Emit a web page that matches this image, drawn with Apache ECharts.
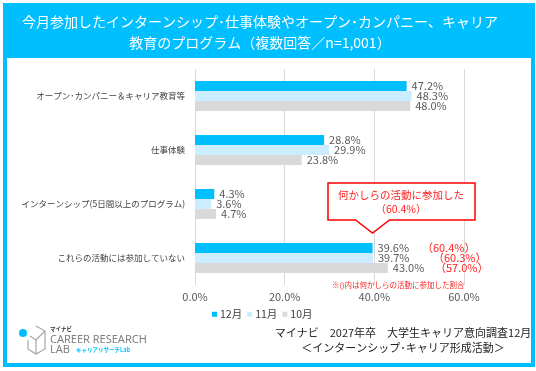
<!DOCTYPE html>
<html><head><meta charset="utf-8">
<script src="https://cdn.jsdelivr.net/npm/echarts@6/dist/echarts.min.js"></script>
<style>html,body{margin:0;padding:0;background:#fff}#c{width:536px;height:371px}</style>
</head><body><div id="c"></div>
<script>
const categories = ['オープン･カンパニー＆キャリア教育等','仕事体験','インターンシップ(5日間以上のプログラム)','これらの活動には参加していない'];
const seriesNames = ['12月','11月','10月'];
const dec = [47.2, 28.8, 4.3, 39.6];
const nov = [48.3, 29.9, 3.6, 39.7];
const oct = [48.0, 23.8, 4.7, 43.0];
const participated = ['（60.4%）','（60.3%）','（57.0%）'];
const xTicks = [0, 20, 40, 60];

const FONT = '"Noto Sans CJK JP", "Noto Sans", sans-serif';
const CYAN = '#00BFFF';
const colors = [CYAN, '#CCECFF', '#D9D9D9'];
const chart = echarts.init(document.getElementById('c'), null, {renderer:'canvas'});

const mk = (name, data, i) => ({
  name, type:'bar', data, barWidth:10, barGap:'0%',
  itemStyle:{color:colors[i]},
  label:{show:true, position:'right', distance:5, formatter:p=>p.value.toFixed(1)+'%',
    color:'#595959', fontSize:11, fontFamily:FONT},
  silent:true, animation:false
});

chart.setOption({
  animation:false,
  textStyle:{fontFamily:FONT},
  grid:{left:195, right:72, top:69, bottom:86},
  xAxis:{type:'value', min:xTicks[0], max:xTicks[xTicks.length-1], interval:20,
    axisLine:{show:false}, axisTick:{show:false},
    splitLine:{lineStyle:{color:'#D9D9D9', width:1}},
    axisLabel:{formatter:v=>v.toFixed(1)+'%', color:'#595959', fontSize:11, margin:6, fontFamily:FONT}},
  yAxis:{type:'category', data:categories, inverse:true,
    axisLine:{show:false}, axisTick:{show:false},
    axisLabel:{color:'#404040', fontSize:8.5, margin:10, fontFamily:FONT}},
  legend:{data:seriesNames, left:207, top:304, icon:'rect', itemWidth:5, itemHeight:5, itemGap:5,
    textStyle:{color:'#404040', fontSize:10.5, fontFamily:FONT, padding:[0,0,0,-2]}},
  series:[mk(seriesNames[0], dec, 0), mk(seriesNames[1], nov, 1), mk(seriesNames[2], oct, 2)]
});

// annotations
const last = categories.length - 1;
const tip = chart.convertToPixel({xAxisIndex:0, yAxisIndex:0}, [dec[last], categories[last]]);
const tx = tip[0], ty = tip[1] - 38;
const ann = [
  {type:'rect', shape:{x:5, y:5, width:528, height:360}, style:{fill:'none', stroke:CYAN, lineWidth:4}, z:10},
  {type:'rect', shape:{x:3, y:3, width:532, height:55}, style:{fill:CYAN}, z:9},
  {type:'text', x:260, y:22, style:{text:'今月参加したインターンシップ･仕事体験やオープン･カンパニー、キャリア', fill:'#fff', fontSize:14, fontFamily:FONT, align:'center', verticalAlign:'middle'}, z:11},
  {type:'text', x:260, y:43, style:{text:'教育のプログラム（複数回答／n=1,001）', fill:'#fff', fontSize:14, fontFamily:FONT, align:'center', verticalAlign:'middle'}, z:11},
  {type:'polygon', shape:{points:[[328,ty-37],[475,ty-37],[475,ty],[tx+17,ty],[tx,ty+13],[tx-17,ty],[328,ty]]},
    style:{fill:'#fff', stroke:'#FF0000', lineWidth:1.5}, z:5},
  {type:'text', x:401, y:ty-25, style:{text:'何かしらの活動に参加した', fill:'#FF2020', fontSize:10.5, fontFamily:FONT, align:'center', verticalAlign:'middle'}, z:6},
  {type:'text', x:401, y:ty-11, style:{text:'（60.4%）', fill:'#FF2020', fontSize:10.5, fontFamily:FONT, align:'center', verticalAlign:'middle'}, z:6},
  {type:'text', x:332, y:285, style:{text:'※()内は何かしらの活動に参加した割合', fill:'#FF2020', fontSize:7.5, fontFamily:FONT, align:'left', verticalAlign:'middle'}, z:6},
  {type:'text', x:403, y:333, style:{text:'マイナビ　2027年卒　大学生キャリア意向調査12月', fill:'#222', fontSize:11, fontFamily:FONT, align:'center', verticalAlign:'middle'}, z:6},
  {type:'text', x:403, y:348, style:{text:'＜インターンシップ･キャリア形成活動＞', fill:'#222', fontSize:11, fontFamily:FONT, align:'center', verticalAlign:'middle'}, z:6},
  // logo
  {type:'polyline', shape:{points:[[36,326],[45,331],[45,349],[36,354],[28,349],[28,340]]}, style:{fill:'none', stroke:'#A6A6A6', lineWidth:1.2}, z:6},
  {type:'polyline', shape:{points:[[30,336],[36,340],[45,331]]}, style:{fill:'none', stroke:'#A6A6A6', lineWidth:1.2}, z:6},
  {type:'line', shape:{x1:36, y1:340, x2:36, y2:354}, style:{stroke:'#A6A6A6', lineWidth:1.2}, z:6},
  {type:'circle', shape:{cx:23, cy:333, r:4}, style:{fill:CYAN}, z:7},
  {type:'text', x:50, y:329, style:{text:'マイナビ', fill:'#333', fontSize:5.5, fontWeight:'bold', fontFamily:FONT, verticalAlign:'middle'}, z:6},
  {type:'text', x:50, y:340, style:{text:'CAREER RESEARCH', fill:'#7F7F7F', fontSize:11, fontFamily:'"Noto Sans", sans-serif', verticalAlign:'middle'}, z:6},
  {type:'text', x:50, y:350, style:{text:'LAB', fill:'#7F7F7F', fontSize:11, fontFamily:'"Noto Sans", sans-serif', verticalAlign:'middle'}, z:6},
  {type:'text', x:76, y:350, style:{text:'キャリアリサーチLab', fill:CYAN, fontSize:5.5, fontWeight:'bold', fontFamily:FONT, verticalAlign:'middle'}, z:6}
];
const ys = [0,1,2].map(i => chart.convertToPixel({xAxisIndex:0, yAxisIndex:0}, [0, categories[last]])[1] + (i-1)*10);
const xs = [422, 433, 435];
participated.forEach((t,i)=>ann.push({type:'text', x:xs[i], y:ys[i], style:{text:t, fill:'#FF2020', fontSize:11, fontFamily:FONT, verticalAlign:'middle'}, z:6}));
chart.setOption({graphic:{elements:ann}});
</script></body></html>
